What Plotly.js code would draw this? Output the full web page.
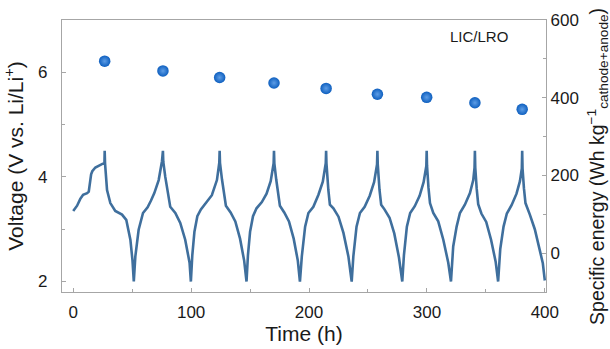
<!DOCTYPE html>
<html>
<head>
<meta charset="utf-8">
<script src="https://cdn.plot.ly/plotly-3.0.1.min.js"></script>
<style>html,body{margin:0;padding:0;background:#fff;}#chart{width:610px;height:349px;}</style>
</head>
<body>
<div id="chart"></div>
<script>
// Voltage profile, read per half-cycle: time (h) and voltage (V)
const cycle1Time = [0, 1.5, 3.3, 6, 8.4, 11.8, 13.2, 15.2, 16.2, 18.8, 22, 25.3, 26.5, 26.7];
const cycle1Volt = [3.35, 3.39, 3.45, 3.58, 3.66, 3.69, 3.72, 4.05, 4.11, 4.18, 4.22, 4.26, 4.27, 4.5];
const dis1Time = [27.0, 28.7, 31.5, 35.7, 41.4, 45, 48.5, 50.3, 51.4];
const dis1Volt = [4.26, 3.75, 3.5, 3.35, 3.28, 3.18, 2.8, 2.4, 2.0];
const ch2Time = [52.7, 55.5, 59.2, 63.1, 66, 68.8, 72.5, 75.3, 76.1];
const ch2Volt = [2.48, 2.99, 3.31, 3.42, 3.55, 3.69, 3.94, 4.3, 4.5];
const dis2Time = [76.4, 78.1, 82.3, 86.6, 90.8, 95, 98.7, 99.8];
const dis2Volt = [4.29, 4.0, 3.43, 3.31, 3.12, 2.8, 2.36, 2.0];
const ch3Time = [101.0, 102.8, 105.3, 108.3, 112.5, 117.6, 121.9, 123.9, 124.2];
const ch3Volt = [2.5, 2.95, 3.25, 3.38, 3.5, 3.65, 3.94, 4.27, 4.5];
const dis3Time = [124.5, 126.2, 129.5, 133.5, 137.5, 141.5, 145, 147];
const dis3Volt = [4.27, 3.95, 3.45, 3.32, 3.15, 2.82, 2.4, 2.0];
const ch4Time = [148.2, 150, 152.5, 155.5, 160, 164, 167.5, 170, 170.3];
const ch4Volt = [2.5, 2.95, 3.25, 3.4, 3.52, 3.68, 3.92, 4.26, 4.5];
const dis4Time = [170.6, 172.2, 175.3, 179, 183, 187, 190.5, 192.3];
const dis4Volt = [4.26, 3.95, 3.45, 3.32, 3.15, 2.82, 2.4, 2.0];
const ch5Time = [193.9, 196.7, 199.5, 203.7, 208, 211.7, 214.2, 214.5];
const ch5Volt = [2.48, 3.05, 3.31, 3.43, 3.66, 3.91, 4.26, 4.5];
const dis5Time = [214.8, 216.4, 217.7, 220.7, 225, 229.2, 233.4, 236.2];
const dis5Volt = [4.26, 3.75, 3.47, 3.40, 3.24, 2.93, 2.48, 2.0];
const ch6Time = [237.6, 240.3, 243.2, 247.2, 251.5, 255.2, 257.7, 258];
const ch6Volt = [2.48, 3.05, 3.31, 3.43, 3.64, 3.9, 4.24, 4.5];
const dis6Time = [258.3, 259.8, 261.2, 264, 268.3, 272.3, 276.3, 279.1];
const dis6Volt = [4.24, 3.75, 3.47, 3.38, 3.22, 2.92, 2.46, 2.0];
const ch7Time = [280.5, 283, 285.8, 289.7, 293.8, 297.2, 299.5, 299.8];
const ch7Volt = [2.5, 3.05, 3.31, 3.44, 3.64, 3.9, 4.21, 4.5];
const dis7Time = [300.1, 301.3, 302.6, 305.4, 309.6, 313.9, 318.1, 320.4];
const dis7Volt = [4.21, 3.8, 3.5, 3.31, 3.15, 2.8, 2.36, 2.0];
const ch8Time = [322.3, 325.2, 328, 332.2, 336.5, 339.3, 340.4, 340.7];
const ch8Volt = [2.67, 3.05, 3.31, 3.47, 3.69, 3.94, 4.18, 4.5];
const dis8Time = [341.0, 342.2, 343.5, 346.2, 350.3, 354.4, 358.3, 360.4];
const dis8Volt = [4.18, 3.78, 3.48, 3.3, 3.14, 2.8, 2.38, 2.0];
const ch9Time = [362.2, 365, 367.8, 371.8, 376, 378.9, 380.5, 380.8];
const ch9Volt = [2.62, 3.05, 3.3, 3.46, 3.68, 3.92, 4.16, 4.5];
const dis9Time = [381.1, 382.3, 383.6, 387.3, 391.5, 395.7, 398.3, 400];
const dis9Volt = [4.16, 3.78, 3.5, 3.28, 3.0, 2.6, 2.35, 2.02];

// Specific energy per cycle (Wh/kg), placed at each charge end time
const energyTime = [26.7, 76.1, 124.2, 170.3, 214.5, 258, 299.8, 340.7, 380.8];
const energyValue = [494, 469, 452, 438, 424, 409, 401, 387, 370];

const xTickVals = [0, 100, 200, 300, 400];
const yTickVals = [2, 4, 6];
const y2TickVals = [0, 200, 400, 600];

const timeAll = [].concat(cycle1Time, dis1Time, ch2Time, dis2Time, ch3Time, dis3Time, ch4Time, dis4Time,
  ch5Time, dis5Time, ch6Time, dis6Time, ch7Time, dis7Time, ch8Time, dis8Time, ch9Time, dis9Time);
const voltAll = [].concat(cycle1Volt, dis1Volt, ch2Volt, dis2Volt, ch3Volt, dis3Volt, ch4Volt, dis4Volt,
  ch5Volt, dis5Volt, ch6Volt, dis6Volt, ch7Volt, dis7Volt, ch8Volt, dis8Volt, ch9Volt, dis9Volt);

const frameColor = '#a6a6a6';
const txt = '#1a1a1a';
const fam = 'Liberation Sans, Arial, sans-serif';

const traces = [
  {x: timeAll, y: voltAll, type: 'scatter', mode: 'lines',
   line: {color: '#3f6f9d', width: 2.6}, xaxis: 'x', yaxis: 'y', hoverinfo: 'skip'},
  {x: energyTime, y: energyValue, type: 'scatter', mode: 'markers',
   marker: {size: 11.5, color: '#0e5fbf', line: {width: 0},
            gradient: {type: 'radial', color: '#5d9de6'}},
   xaxis: 'x', yaxis: 'y2', hoverinfo: 'skip'}
];

const layout = {
  width: 610, height: 349,
  margin: {l: 62, r: 64, t: 20, b: 57, pad: 0},
  paper_bgcolor: '#fff', plot_bgcolor: '#fff',
  showlegend: false,
  font: {family: fam, color: txt, size: 17},
  xaxis: {
    range: [-9.5, 401], tickvals: xTickVals, ticktext: xTickVals.map(String),
    ticks: 'inside', ticklen: 4, tickcolor: frameColor, tickwidth: 1,
    minor: {ticks: 'inside', ticklen: 3, tickcolor: frameColor, dtick: 50, tick0: 0},
    showline: true, linecolor: frameColor, linewidth: 1.2, mirror: true,
    showgrid: false, zeroline: false,
    tickfont: {size: 17, family: fam, color: txt},
    ticklabelstandoff: 4,
    title: {text: 'Time (h)', font: {size: 21, family: fam, color: txt}, standoff: 2}
  },
  yaxis: {
    range: [1.8, 7.0], tickvals: yTickVals, ticktext: yTickVals.map(String),
    ticks: 'inside', ticklen: 4, tickcolor: frameColor, tickwidth: 1,
    minor: {ticks: 'inside', ticklen: 3, tickcolor: frameColor, dtick: 1, tick0: 1},
    showline: true, linecolor: frameColor, linewidth: 1.2, mirror: true,
    showgrid: false, zeroline: false,
    tickfont: {size: 17, family: fam, color: txt},
    ticklabelstandoff: 10,
    title: {text: 'Voltage (V vs. Li/Li<sup>+</sup>)', font: {size: 21, family: fam, color: txt}, standoff: 8}
  },
  yaxis2: {
    overlaying: 'y', side: 'right', anchor: 'x',
    range: [-100, 600], tickvals: y2TickVals, ticktext: y2TickVals.map(String),
    ticks: 'inside', ticklen: 4, tickcolor: frameColor, tickwidth: 1,
    minor: {ticks: 'inside', ticklen: 3, tickcolor: frameColor, dtick: 100, tick0: 100},
    showline: true, linecolor: frameColor, linewidth: 1.2,
    showgrid: false, zeroline: false,
    tickfont: {size: 17, family: fam, color: txt},
    ticklabelstandoff: 0
  },
  annotations: [{
    text: 'LIC/LRO', xref: 'paper', yref: 'paper', x: 0.926, y: 0.941,
    xanchor: 'right', yanchor: 'middle', showarrow: false,
    font: {size: 15, family: fam, color: txt}
  }, {
    text: 'Specific energy (Wh kg<sup>−1</sup><sub>cathode+anode</sub>)',
    xref: 'paper', yref: 'paper', x: 1.106, y: 0.461, textangle: -90,
    xanchor: 'center', yanchor: 'middle', showarrow: false,
    font: {size: 19.5, family: fam, color: txt}
  }]
};

Plotly.newPlot('chart', traces, layout, {displayModeBar: false, staticPlot: true});
</script>
</body>
</html>
